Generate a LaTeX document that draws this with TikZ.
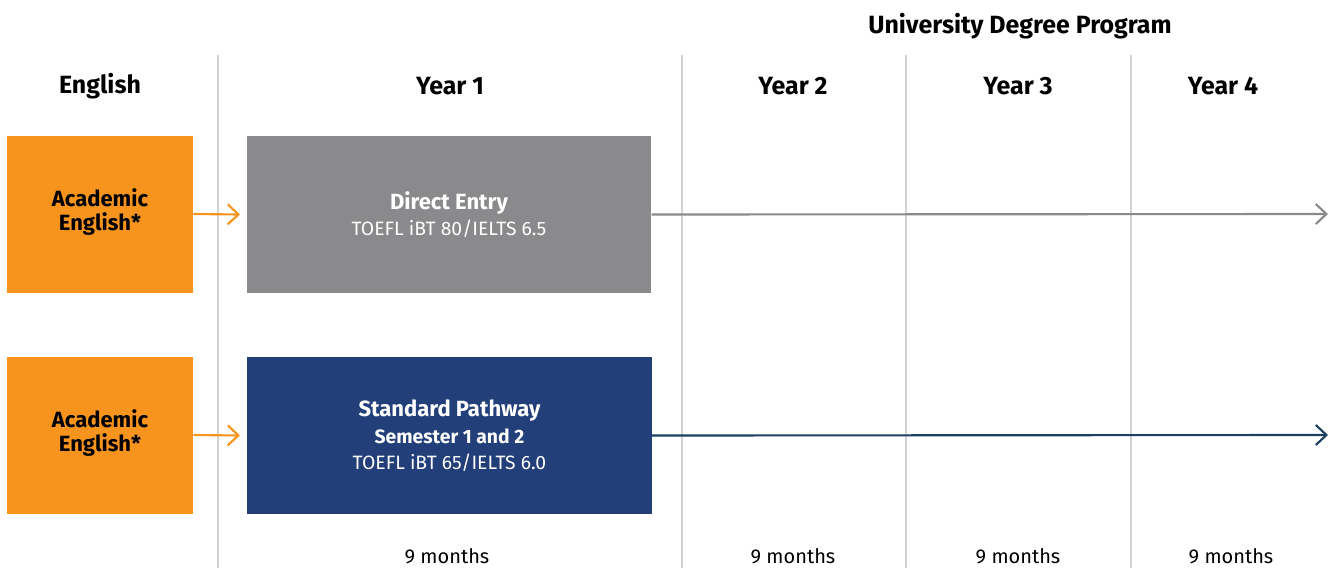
\documentclass[tikz,border=0pt]{standalone}
\usepackage{fontspec}
\setmainfont{Fira Sans}
\usetikzlibrary{arrows.meta}

\definecolor{pathorange}{RGB}{247,148,30}
\definecolor{directgray}{RGB}{138,138,140}
\definecolor{pathblue}{RGB}{34,63,122}
\definecolor{lineblue}{RGB}{27,64,100}
\definecolor{gridgray}{RGB}{210,210,210}

\tikzset{
    header/.style={font=\fontsize{18.7}{20}\selectfont\bfseries, inner sep=0pt},
    months/.style={font=\fontsize{15}{16}\selectfont, inner sep=0pt},
    engbox/.style={fill=pathorange, minimum width=139.5pt, minimum height=117.75pt, inner sep=0pt},
    engtext/.style={align=center, inner sep=0pt, yshift=1.9pt, font=\fontsize{16.5}{18}\selectfont\bfseries},
    yearbox/.style={minimum width=303.5pt, minimum height=117.75pt, inner sep=0pt, align=center, text=white},
    chevron/.style={-{Straight Barb[length=8pt, width=15pt, line width=1.6pt]}, line width=1.6pt}
}

\begin{document}
\begin{tikzpicture}[x=0.75pt, y=-0.75pt]
            \useasboundingbox (0,0) rectangle (1331,568);

            % column rules
            \draw[gridgray, line width=0.8pt] (218,55) -- (218,568);
            \draw[gridgray, line width=0.8pt] (682,55) -- (682,568);
            \draw[gridgray, line width=0.8pt] (906,55) -- (906,568);
            \draw[gridgray, line width=0.8pt] (1131,55) -- (1131,568);

            % headings
            \node[header] (degree) at (1020,26) {University Degree Program};
            \node[header] (english) at (100,86) {English};
            \node[header] (year1) at (450,86) {Year 1};
            \node[header] (year2) at (793,86) {Year 2};
            \node[header] (year3) at (1018,86) {Year 3};
            \node[header] (year4) at (1223,86) {Year 4};

            % boxes
            \node[engbox, label={[engtext]center:Academic\\[-0.5pt]English*}] (eng1) at (100,214.5) {};
            \node[engbox, label={[engtext]center:Academic\\[-0.5pt]English*}] (eng2) at (100,435.5) {};
            \node[yearbox, fill=directgray] (direct) at (449,214.5)
                {{\fontsize{16.5}{18}\selectfont\bfseries Direct Entry}\\[3.75pt]
                 {\fontsize{14.5}{16}\selectfont TOEFL iBT 80/IELTS 6.5}};
            \node[yearbox, fill=pathblue] (standard) at (449.5,435.5)
                {{\fontsize{16.5}{18}\selectfont\bfseries Standard Pathway}\\[4.75pt]
                 {\fontsize{14.5}{16}\selectfont\bfseries Semester 1 and 2}\\[7.5pt]
                 {\fontsize{14.5}{16}\selectfont TOEFL iBT 65/IELTS 6.0}};

            % connectors
            \coordinate (directend) at (1328,214);
            \coordinate (standardend) at (1328,435);
            \draw[chevron, pathorange] (eng1.east |- 0,214) -- (direct.west -| 240,0);
            \draw[chevron, pathorange] (eng2.east |- 0,435) -- (standard.west -| 240,0);
            \draw[chevron, directgray] (direct.east) -- (directend);
            \draw[chevron, lineblue] (standard.east) -- (standardend);

            % durations
            \node[months] (m1) at (447,556) {9 months};
            \node[months] (m2) at (793,556) {9 months};
            \node[months] (m3) at (1018,556) {9 months};
            \node[months] (m4) at (1231,556) {9 months};
        \end{tikzpicture}
\end{document}
